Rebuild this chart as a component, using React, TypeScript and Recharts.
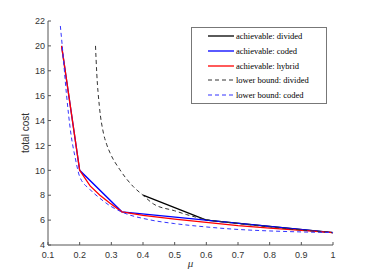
import { Line, LineChart, XAxis, YAxis } from 'recharts'

const muTicks = [0.1, 0.2, 0.3, 0.4, 0.5, 0.6, 0.7, 0.8, 0.9, 1]
const costTicks = [4, 6, 8, 10, 12, 14, 16, 18, 20, 22]

// achievable schemes
const dividedMu = [0.4, 0.6, 1]
const dividedCost = [8, 6, 5]
const codedMu = [0.1429, 0.2, 0.3333, 1]
const codedCost = [20, 10, 6.667, 5]
const hybridMu = [0.1429, 0.2, 0.233, 0.264, 0.296, 0.3333, 0.4, 0.5, 0.6, 0.7, 0.8, 0.9, 1]
const hybridCost = [20, 10, 8.75, 8.0, 7.35, 6.667, 6.38, 6.08, 5.82, 5.55, 5.35, 5.17, 5]

// lower bounds
const lbDividedMu = [0.25, 0.254, 0.262, 0.275, 0.285, 0.296, 0.327, 0.369, 0.4, 0.433, 0.5, 0.538, 0.6, 0.7, 0.8, 0.9, 1]
const lbDividedCost = [20, 17.8, 15.2, 13.0, 12.1, 11.4, 10.05, 8.7, 8.0, 7.3, 6.75, 6.44, 6.05, 5.72, 5.45, 5.2, 5]
const lbCodedMu = [0.139, 0.145, 0.158, 0.172, 0.186, 0.2, 0.233, 0.264, 0.296, 0.3333, 0.42, 0.5, 0.6, 0.7, 0.8, 0.9, 1]
const lbCodedCost = [21.6, 20, 16.2, 13, 11, 9.5, 8.45, 7.75, 7.15, 6.65, 6.03, 5.72, 5.45, 5.25, 5.13, 5.05, 5]

const toPoints = (mu: number[], cost: number[]) => mu.map((m, i) => ({ mu: m, cost: cost[i] }))

const series = [
  { name: 'achievable: divided', mu: dividedMu, cost: dividedCost, color: '#000000', dash: undefined },
  { name: 'achievable: coded', mu: codedMu, cost: codedCost, color: '#0000ff', dash: undefined },
  { name: 'achievable: hybrid', mu: hybridMu, cost: hybridCost, color: '#ff0000', dash: undefined },
  { name: 'lower bound: divided', mu: lbDividedMu, cost: lbDividedCost, color: '#333333', dash: '4 3' },
  { name: 'lower bound: coded', mu: lbCodedMu, cost: lbCodedCost, color: '#3333ff', dash: '4 3' },
]

const AXIS = '#555'
const tickStyle = { fontSize: 9, fill: '#333', fontFamily: '"Liberation Sans", Arial, sans-serif' }

function LegendBox() {
  return (
    <div
      style={{
        position: 'absolute',
        left: 191,
        top: 27,
        width: 134,
        height: 75,
        border: '1px solid #777',
        background: '#fff',
        fontFamily: '"Liberation Serif", "DejaVu Serif", serif',
        fontSize: 8.5,
        color: '#000',
      }}
    >
      {series.map((s, i) => (
        <div
          key={s.name}
          style={{ position: 'absolute', left: 0, top: 1 + i * 14.8, height: 14, display: 'flex', alignItems: 'center' }}
        >
          <svg width={44} height={14}>
            <line x1={16} x2={42} y1={7} y2={7} stroke={s.color} strokeWidth={s.dash ? 1 : 1.3} strokeDasharray={s.dash} />
          </svg>
          <span style={{ whiteSpace: 'nowrap' }}>{s.name}</span>
        </div>
      ))}
    </div>
  )
}

export default function App() {
  return (
    <div style={{ position: 'absolute', left: 0, top: 0, width: 368, height: 276, background: '#fff' }}>
      <LineChart width={368} height={276} margin={{ top: 21, right: 35, bottom: 0, left: 2 }}>
        <XAxis
          xAxisId="main"
          type="number"
          dataKey="mu"
          domain={[0.1, 1]}
          ticks={muTicks}
          height={31}
          stroke={AXIS}
          tick={tickStyle}
          tickSize={-3}
          tickMargin={10}
          label={{ value: 'μ', position: 'insideBottom', offset: 9, fontSize: 11, fontStyle: 'italic', fill: '#333' }}
        />
        <XAxis
          xAxisId="top"
          orientation="top"
          type="number"
          dataKey="mu"
          domain={[0.1, 1]}
          ticks={muTicks}
          height={0}
          stroke={AXIS}
          tick={false}
          tickSize={-3}
        />
        <YAxis
          yAxisId="main"
          type="number"
          domain={[4, 22]}
          ticks={costTicks}
          width={46}
          stroke={AXIS}
          tick={tickStyle}
          tickSize={-3}
          tickMargin={6}
          label={{ value: 'total cost', angle: -90, position: 'center', fontSize: 10, fill: '#333', fontFamily: '"Liberation Sans", Arial, sans-serif' }}
        />
        <YAxis
          yAxisId="right"
          orientation="right"
          type="number"
          domain={[4, 22]}
          ticks={costTicks}
          width={0}
          stroke={AXIS}
          tick={false}
          tickSize={-3}
        />
        {series.map((s) => (
          <Line
            key={s.name}
            xAxisId="main"
            yAxisId="main"
            data={toPoints(s.mu, s.cost)}
            dataKey="cost"
            type={s.dash ? 'monotone' : 'linear'}
            stroke={s.color}
            strokeWidth={s.dash ? 1 : 1.3}
            strokeDasharray={s.dash}
            dot={false}
            activeDot={false}
            isAnimationActive={false}
          />
        ))}
      </LineChart>
      <LegendBox />
    </div>
  )
}
